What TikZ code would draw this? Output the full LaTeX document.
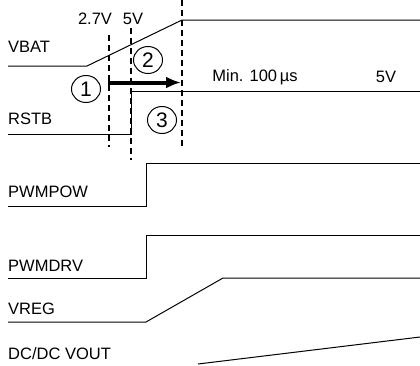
\documentclass[tikz,border=0pt]{standalone}
\usepackage{fontspec}
\setmainfont{Liberation Sans}
\usetikzlibrary{shapes.geometric,arrows.meta}
\begin{document}
\begin{tikzpicture}[>=latex,x=1pt,y=-1pt,
  sig/.style={line width=1pt},
  vline/.style={line width=2pt,dash pattern=on 6pt off 4pt},
  lbl/.style={anchor=west,inner sep=0pt,font=\fontsize{16.5}{19}\selectfont},
  txt/.style={inner sep=0pt,font=\fontsize{16.5}{19}\selectfont},
  num/.style={draw,ellipse,line width=1pt,minimum width=29pt,minimum height=27pt,inner sep=0pt,font=\fontsize{21}{23}\selectfont}]
\useasboundingbox (0,0) rectangle (420,365);
% signal names
\node[lbl] (vbat) at (8,47) {VBAT};
\node[lbl] (rstb) at (8,119) {RSTB};
\node[lbl] (pwmpow) at (8,192) {PWMPOW};
\node[lbl] (pwmdrv) at (8,266) {PWMDRV};
\node[lbl] (vreg) at (8,309) {VREG};
\node[lbl] (vout) at (8,354) {DC/DC VOUT};
% thresholds and timing
\node[txt] (v27) at (95,19) {2.7V};
\node[txt] (v5) at (133,19) {5V};
\node[txt] (tmin) at (255,77) {Min. 100\,µs};
\node[txt] (vfive) at (386,77) {5V};
\node[num] (one) at (86,89) {1};
\node[num] (two) at (148,60) {2};
\node[num] (three) at (162,120) {3};
% dashed markers
\draw[vline](109,35)--(109,147);
\draw[vline](131,28)--(131,160);
\draw[vline](182,0)--(182,146);
\coordinate (a) at (108,82.5);
\coordinate (b) at (181,82.5);
\draw[-{Latex[length=15pt,width=12pt]},line width=4pt](a)--(b);
% waveforms
\draw[sig](8,66)--(87,66)--(182,20)--(420,20);
\draw[sig](8,134)--(131,134)--(131,91)--(420,91);
\foreach \y in {163,235}
  \draw[sig](8,\y+43)--(146,\y+43)--(146,\y)--(420,\y);
\draw[sig](8,322)--(146,322)--(223,278)--(420,278);
\draw[sig](198,364)--(420,337);
\end{tikzpicture}
\end{document}
